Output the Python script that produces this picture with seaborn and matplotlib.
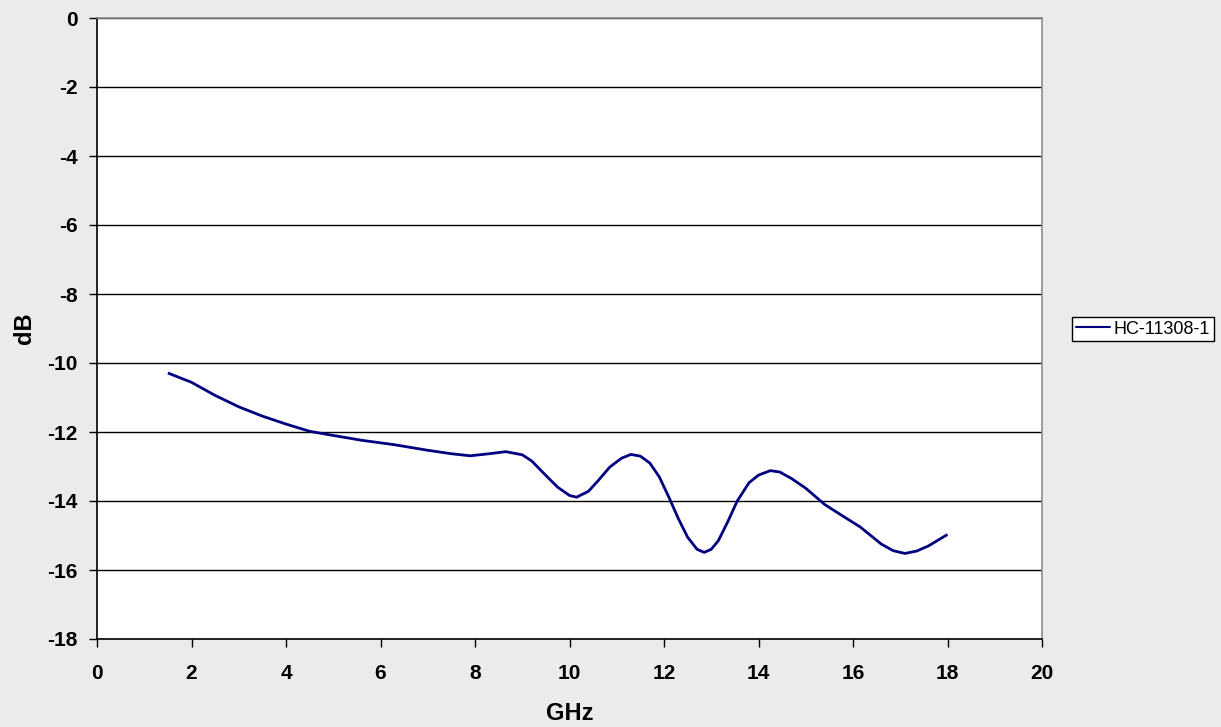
import matplotlib
matplotlib.use("Agg")
import matplotlib.pyplot as plt
import numpy as np
import pandas as pd
import seaborn as sns

# Datos
ghz = [1.5, 2.0, 2.5, 3.0, 3.5, 4.0, 4.5, 5.0, 5.6, 6.3, 7.0, 7.5, 7.9, 8.3,
       8.65, 9.0, 9.2, 9.5, 9.75, 10.0, 10.15, 10.4, 10.6, 10.85, 11.1, 11.3,
       11.5, 11.7, 11.9, 12.1, 12.3, 12.5, 12.7, 12.85, 13.0, 13.15, 13.35,
       13.55, 13.8, 14.0, 14.25, 14.45, 14.7, 15.0, 15.4, 15.8, 16.15, 16.6,
       16.85, 17.1, 17.35, 17.6, 18.0]
db = [-10.29, -10.56, -10.94, -11.27, -11.54, -11.77, -11.98, -12.10, -12.24,
      -12.37, -12.53, -12.63, -12.69, -12.63, -12.57, -12.66, -12.84, -13.26,
      -13.60, -13.84, -13.89, -13.72, -13.42, -13.02, -12.76, -12.65, -12.70,
      -12.90, -13.30, -13.88, -14.50, -15.05, -15.40, -15.49, -15.40, -15.15,
      -14.60, -14.00, -13.47, -13.25, -13.12, -13.16, -13.35, -13.63, -14.10,
      -14.45, -14.75, -15.25, -15.44, -15.52, -15.45, -15.30, -14.97]
serie = "HC-11308-1"

x_ticks = list(range(0, 21, 2))
y_ticks = list(range(-18, 1, 2))

df = pd.DataFrame({"GHz": ghz, "dB": db, "serie": serie})

sns.set_style("white", {"text.color": "black", "axes.labelcolor": "black",
                        "xtick.color": "black", "ytick.color": "black"})
plt.rcParams["font.family"] = ["Liberation Sans", "DejaVu Sans"]

fig = plt.figure(figsize=(12.21, 7.27), dpi=100, facecolor="#ebebeb")
ax = fig.add_axes([97 / 1221, 88 / 727, 945 / 1221, 621 / 727])
ax.set_facecolor("white")

sns.lineplot(data=df, x="GHz", y="dB", hue="serie", palette=["#000080"],
             linewidth=2, ax=ax, legend=False,
             solid_joinstyle="round", solid_capstyle="butt")

ax.set_xlim(0, 20)
ax.set_ylim(-18, 0)
ax.set_xticks(x_ticks)
ax.set_yticks(y_ticks)
ax.set_xticklabels([str(v) for v in x_ticks], fontsize=15, fontweight="bold")
ax.set_yticklabels([str(v) for v in y_ticks], fontsize=15, fontweight="bold")
ax.tick_params(axis="both", direction="out", length=6, width=1, color="black",
               bottom=True, left=True)
ax.tick_params(axis="x", pad=12)
ax.tick_params(axis="y", pad=8)

ax.yaxis.grid(True, color="black", linewidth=1)
ax.xaxis.grid(False)
ax.set_axisbelow(True)

for side in ["left", "bottom"]:
    ax.spines[side].set_color("black")
    ax.spines[side].set_linewidth(1.2)
for side in ["top", "right"]:
    ax.spines[side].set_color("#8c8c8c")
    ax.spines[side].set_linewidth(1.2)

ax.set_xlabel("GHz", fontsize=17, fontweight="bold", labelpad=14)
ax.set_ylabel("dB", fontsize=17, fontweight="bold", labelpad=8)

# Leyenda fuera del area del grafico
handle = plt.Line2D([], [], color="#000080", linewidth=1.5)
leg = fig.legend([handle], [serie], loc="upper left",
                 bbox_to_anchor=(1072 / 1221, 1 - 317 / 727),
                 frameon=True, fancybox=False, edgecolor="black",
                 facecolor="white", framealpha=1, fontsize=13,
                 handlelength=1.9, handletextpad=0.2, borderpad=0.2,
                 borderaxespad=0)
leg.get_frame().set_linewidth(1)

fig.savefig("out.png", dpi=100, facecolor=fig.get_facecolor())
